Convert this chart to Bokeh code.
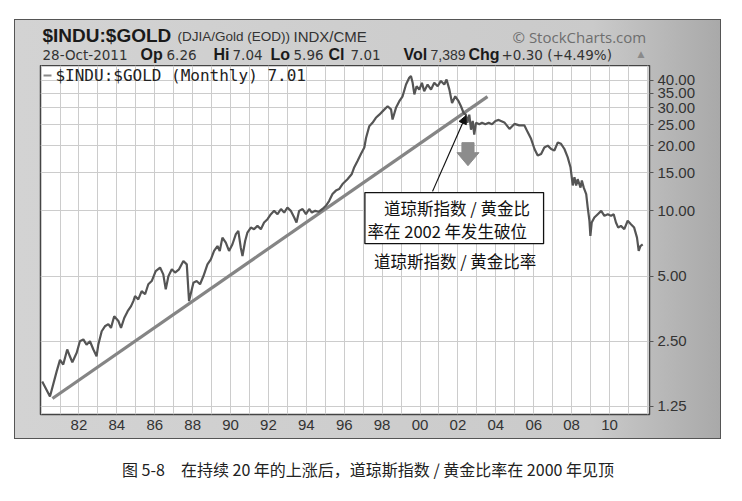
from bokeh.plotting import figure
from bokeh.models import (Range1d, FixedTicker, NumeralTickFormatter, Arrow, NormalHead, Spacer)
from bokeh.layouts import column, row
from bokeh.core.properties import value
from bokeh.embed import file_html
from bokeh.resources import INLINE

# ---------------- data ----------------
dates = [1980.06, 1980.47, 1980.82, 1981.0, 1981.17, 1981.38, 1981.52, 1981.65, 1981.88,
         1982.05, 1982.23, 1982.4, 1982.58, 1982.76, 1982.93, 1983.02, 1983.2, 1983.37,
         1983.55, 1983.69, 1983.86, 1984.08, 1984.22, 1984.39, 1984.57, 1984.75, 1984.87,
         1984.96, 1985.13, 1985.31, 1985.49, 1985.66, 1985.84, 1986.05, 1986.28, 1986.45,
         1986.58, 1986.72, 1986.9, 1987.07, 1987.28, 1987.51, 1987.69, 1987.81, 1988.04,
         1988.21, 1988.39, 1988.57, 1988.78, 1988.96, 1989.13, 1989.31, 1989.43, 1989.57,
         1989.75, 1989.92, 1990.1, 1990.28, 1990.41, 1990.54, 1990.63, 1990.77, 1990.89,
         1991.07, 1991.24, 1991.42, 1991.6, 1991.77, 1991.95, 1992.13, 1992.3, 1992.48,
         1992.66, 1992.83, 1993.0, 1993.18, 1993.36, 1993.48, 1993.62, 1993.8, 1993.98,
         1994.15, 1994.29, 1994.47, 1994.64, 1994.85, 1995.03, 1995.2, 1995.38, 1995.56,
         1995.73, 1995.91, 1996.17, 1996.4, 1996.53, 1996.7, 1996.88, 1997.06, 1997.15,
         1997.32, 1997.49, 1997.67, 1997.85, 1998.02, 1998.29, 1998.47, 1998.55, 1998.73,
         1998.9, 1999.08, 1999.26, 1999.43, 1999.52, 1999.61, 1999.7, 1999.82, 1999.96,
         2000.1, 2000.22, 2000.4, 2000.58, 2000.75, 2000.93, 2001.1, 2001.28, 2001.4,
         2001.55, 2001.69, 2001.86, 2002.04, 2002.16, 2002.3, 2002.42, 2002.5, 2002.6,
         2002.69, 2002.78, 2002.86, 2002.95, 2003.13, 2003.27, 2003.45, 2003.62, 2003.8,
         2003.98, 2004.15, 2004.45, 2004.72, 2004.98, 2005.24, 2005.51, 2005.68, 2005.86,
         2006.04, 2006.21, 2006.39, 2006.56, 2006.74, 2006.92, 2007.09, 2007.27, 2007.44,
         2007.62, 2007.79, 2007.94, 2008.06, 2008.15, 2008.24, 2008.32, 2008.47, 2008.54,
         2008.64, 2008.77, 2008.85, 2008.94, 2008.99, 2009.06, 2009.2, 2009.38, 2009.56,
         2009.73, 2009.91, 2010.08, 2010.22, 2010.34, 2010.46, 2010.6, 2010.78, 2010.96,
         2011.13, 2011.3, 2011.45, 2011.54, 2011.63, 2011.75]
ratio = [1.63, 1.39, 1.81, 2.05, 1.95, 2.29, 2.13, 2.0, 2.21,
         2.5, 2.55, 2.41, 2.5, 2.29, 2.13, 2.41, 2.78, 2.93,
         3.0, 2.88, 3.26, 3.1, 2.88, 3.2, 3.44, 3.63, 3.83,
         4.04, 3.9, 4.26, 4.12, 4.58, 4.74, 5.27, 5.47, 5.09,
         4.34, 4.99, 5.37, 5.19, 5.37, 5.87, 5.66, 3.83, 4.66,
         4.74, 4.58, 5.0, 5.66, 5.97, 6.53, 6.88, 6.53, 7.52,
         7.13, 6.53, 7.01, 7.8, 8.08, 6.76, 6.19, 7.26, 7.94,
         8.37, 8.23, 8.52, 8.23, 8.83, 9.15, 9.65, 10.0, 9.65,
         10.2, 9.82, 10.36, 10.0, 9.31, 8.83, 10.0, 10.2, 9.65,
         10.2, 9.82, 10.0, 9.9, 10.2, 10.55, 11.1, 11.95, 12.4,
         12.6, 13.3, 14.0, 14.8, 15.9, 17.0, 18.3, 19.6, 21.7,
         24.6, 25.5, 26.9, 27.8, 28.8, 30.4, 29.4, 26.4, 29.9,
         32.0, 33.8, 38.3, 41.2, 41.9, 39.0, 34.5, 37.6, 36.3,
         39.0, 35.7, 38.3, 36.3, 39.0, 37.6, 39.8, 38.3, 40.4,
         36.3, 31.5, 33.8, 32.0, 30.4, 28.3, 27.8, 25.5, 27.8,
         23.7, 26.0, 22.5, 25.5, 25.1, 25.5, 25.1, 25.5, 25.1,
         26.0, 26.3, 25.6, 23.9, 25.2, 24.8, 24.8, 23.1, 21.5,
         19.3, 18.0, 18.3, 19.6, 20.0, 19.3, 19.0, 20.7, 20.4,
         19.3, 17.7, 15.9, 13.1, 14.3, 13.1, 14.0, 12.8, 13.8,
         12.8, 11.95, 10.36, 9.0, 7.66, 8.83, 9.31, 9.65, 10.0,
         9.48, 9.65, 9.48, 9.65, 8.83, 8.37, 8.52, 8.23, 9.0,
         8.67, 8.37, 7.52, 6.53, 6.88, 7.01]

trend_dates = [1980.6, 2003.56]
trend_values = [1.36, 33.7]

year_ticks = list(range(1982, 2011, 2))
year_labels = ["82", "84", "86", "88", "90", "92", "94", "96", "98",
               "00", "02", "04", "06", "08", "10"]
grid_years = list(range(1980, 2013))
y_ticks = [1.25, 2.5, 5, 10, 15, 20, 25, 30, 35, 40]

symbol = "$INDU:$GOLD"
subtitle = "(DJIA/Gold (EOD))"
exchange = "INDX/CME"
brand = "© StockCharts.com"
quote_date = "28-Oct-2011"
quote_labels = ["Op", "Hi", "Lo", "Cl", "Vol", "Chg"]
quote_values = ["6.26", "7.04", "5.96", "7.01", "7,389", "+0.30 (+4.49%)"]
legend_text = "$INDU:$GOLD (Monthly) 7.01"

note_lines = ["道琼斯指数 / 黄金比", "率在 2002 年发生破位"]
series_note = "道琼斯指数 / 黄金比率"
caption = "图 5-8\u3000在持续 20 年的上涨后，道琼斯指数 / 黄金比率在 2000 年见顶"

# ---------------- geometry (pixels) ----------------
W = 705                 # panel width
HEAD_H = 45             # header strip height
CH = 373                # chart height
ML, MR, MB = 25, 71, 24 # chart borders

# ---------------- header strip ----------------
t = figure(width=W, height=HEAD_H, title=None,
           x_range=Range1d(ML, W - MR), y_range=Range1d(HEAD_H, 0),
           output_backend="svg", toolbar_location=None,
           min_border_left=ML, min_border_right=MR, min_border_top=0, min_border_bottom=0,
           x_axis_location=None, y_axis_location=None, outline_line_color=None,
           background_fill_color=None, border_fill_color=None)
t.grid.visible = False

L1, L2 = 15, 34   # vertical centres of the two header lines
t.text(x=[27], y=[L1], text=[symbol], text_font=value("Liberation Sans"),
       text_font_style="bold", text_font_size="19px", text_color="#1a1a1a",
       text_baseline="middle")
t.text(x=[162], y=[L1 + 1], text=[subtitle], text_font=value("Liberation Sans"),
       text_font_size="13.5px", text_color="#333333", text_baseline="middle")
t.text(x=[278], y=[L1 + 1], text=[exchange], text_font=value("Liberation Sans"),
       text_font_size="15px", text_color="#333333", text_baseline="middle")
t.text(x=[497], y=[L1 + 1], text=[brand], text_font=value("Open Sans"),
       text_font_size="15px", text_color="#6e6e6e", text_baseline="middle")

t.text(x=[27], y=[L2], text=[quote_date], text_font=value("DejaVu Sans"),
       text_font_size="13.5px", text_color="#333333", text_baseline="middle")
label_x = [125, 198, 255, 313, 388, 453]
value_x = [151, 217, 278, 335, 415, 486]
t.text(x=label_x, y=[L2] * 6, text=quote_labels, text_font=value("Liberation Sans"),
       text_font_style="bold", text_font_size="16px", text_color="#1a1a1a",
       text_baseline="middle")
t.text(x=value_x[:4] + value_x[5:], y=[L2] * 5, text=quote_values[:4] + quote_values[5:],
       text_font=value("DejaVu Sans"), text_font_size="13.5px", text_color="#333333",
       text_baseline="middle")
t.text(x=[value_x[4]], y=[L2], text=[quote_values[4]],
       text_font=value("Liberation Sans"), text_font_size="14px", text_color="#333333",
       text_baseline="middle")
t.text(x=[622], y=[L2 - 1], text=["▲"], text_font=value("DejaVu Sans"),
       text_font_size="9px", text_color="#8a8a8a", text_baseline="middle")

# ---------------- chart ----------------
p = figure(width=W, height=CH, title=None,
           x_range=Range1d(1979.97, 2012.11), y_range=Range1d(1.147, 46.9),
           y_axis_type="log", y_axis_location="right",
           output_backend="svg", toolbar_location=None,
           min_border_left=ML, min_border_right=MR, min_border_top=0, min_border_bottom=MB,
           border_fill_color=None, background_fill_color="white",
           outline_line_color="#444444", outline_line_width=1.5)

p.xaxis.ticker = FixedTicker(ticks=year_ticks)
p.xaxis.major_label_overrides = {yr: lab for yr, lab in zip(year_ticks, year_labels)}
p.xaxis.axis_line_color = None
p.xaxis.major_tick_line_color = None
p.xaxis.minor_tick_line_color = None
p.xaxis.major_tick_out = 0
p.xaxis.major_label_standoff = 5
p.xaxis.major_label_text_font = "Liberation Sans"
p.xaxis.major_label_text_font_size = "15px"
p.xaxis.major_label_text_color = "#333333"

p.yaxis.ticker = FixedTicker(ticks=y_ticks)
p.yaxis.formatter = NumeralTickFormatter(format="0.00")
p.yaxis.axis_line_color = None
p.yaxis.major_tick_line_color = "#555555"
p.yaxis.major_tick_out = 4
p.yaxis.major_tick_in = 0
p.yaxis.minor_tick_line_color = None
p.yaxis.major_label_standoff = 4
p.yaxis.major_label_text_font = "Liberation Sans"
p.yaxis.major_label_text_font_size = "15px"
p.yaxis.major_label_text_color = "#333333"

p.xgrid.ticker = FixedTicker(ticks=grid_years)
p.ygrid.ticker = FixedTicker(ticks=y_ticks)
p.grid.grid_line_color = "#cccccc"
p.grid.grid_line_width = 1

# trend line and data
p.line(trend_dates, trend_values, line_color="#858585", line_width=3.2)
p.line(dates, ratio, line_color="#555555", line_width=2.2)

# legend inside the frame
p.line([1980.13, 1980.55], [42.2, 42.2], line_color="#8a8a8a", line_width=2)
p.text(x=[1980.76], y=[42.2], text=[legend_text], text_font=value("DejaVu Sans Mono"),
       text_font_size="16px", text_color="#222222", text_baseline="middle")

# downward block arrow (breakdown marker)
p.patch([2002.21, 2002.85, 2002.85, 2003.11, 2002.53, 2001.95, 2002.21],
        [20.65, 20.65, 18.56, 18.56, 16.16, 18.56, 18.56],
        fill_color="#8c8c8c", line_color="#8c8c8c")

# callout box
p.quad(left=[1997.09], right=[2006.52], top=[12.15], bottom=[7.05],
       fill_color="white", line_color="#111111", line_width=1.3)
p.text(x=[1998.1, 1997.23], y=[10.36, 8.08], text=note_lines,
       text_font=value("Noto Sans CJK SC"), text_font_size="16.5px",
       text_color="#111111", text_baseline="middle")
p.text(x=[1997.57], y=[5.87], text=[series_note],
       text_font=value("Noto Sans CJK SC"), text_font_size="16.5px",
       text_color="#111111", text_baseline="middle")
p.add_layout(Arrow(x_start=2000.66, y_start=12.3, x_end=2002.42, y_end=27.5,
                   line_color="#111111", line_width=1.2,
                   end=NormalHead(size=8, fill_color="#111111", line_color="#111111")))

# ---------------- caption ----------------
CW = 735
c = figure(width=CW, height=36, title=None, x_range=Range1d(0, CW), y_range=Range1d(0, 36),
           output_backend="svg", toolbar_location=None, min_border=0,
           x_axis_location=None, y_axis_location=None, outline_line_color=None,
           background_fill_color=None, border_fill_color=None)
c.grid.visible = False
c.text(x=[367.5], y=[18], text=[caption], text_font=value("Noto Sans CJK SC"),
       text_font_size="16px", text_color="#222222", text_align="center",
       text_baseline="middle")

panel = column(t, p, spacing=0,
               styles={"background": "linear-gradient(to right, #d3d3d3 0%, #cacaca 82%, #a9a9a9 100%)",
                       "outline": "1px solid #555555"})
layout = column(Spacer(width=10, height=20),
                row(Spacer(width=15, height=10), panel),
                Spacer(width=10, height=12),
                row(c))

open("out.html", "w").write(file_html(layout, INLINE))
